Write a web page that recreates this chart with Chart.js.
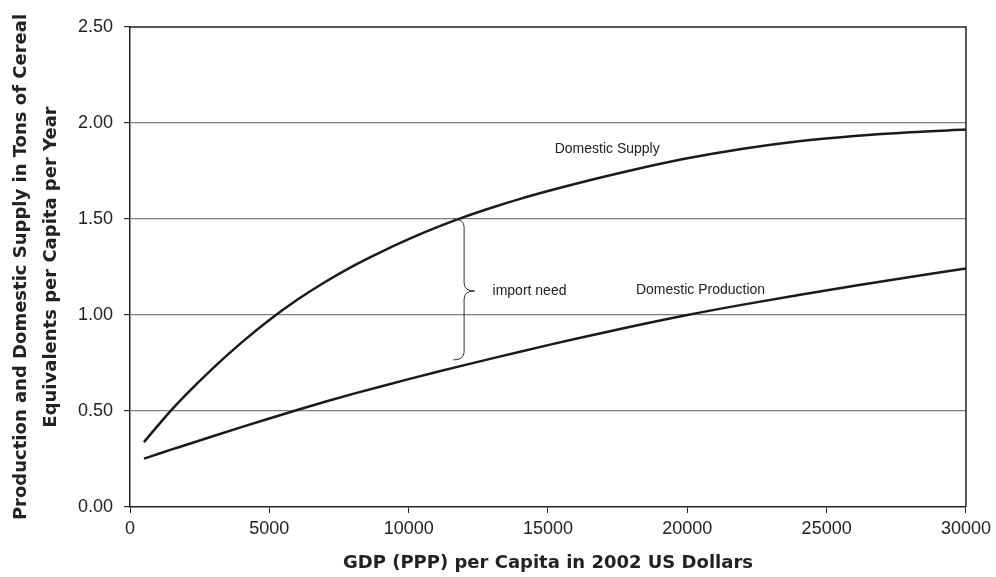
<!DOCTYPE html>
<html lang="en">
  <head>
    <meta charset="UTF-8" />
    <title>Cereal Supply vs GDP</title>
    <script src="https://cdn.jsdelivr.net/npm/chart.js@4"></script>
    <style>
      body {
        margin: 0;
        background: white;
      }
    </style>
  </head>
  <body>
    <canvas id="chart" width="996" height="577"></canvas>

    <script>
      // GDP per capita (x) and the two curves
      const gdp = [500, 1000, 1500, 2000, 3000, 4000, 5000, 6000, 7000, 8000, 9000, 10000,
        11000, 12000, 13000, 14000, 15000, 16000, 18000, 20000, 22000, 24000, 26000, 28000, 30000];
      const supply = [0.338, 0.424, 0.507, 0.584, 0.726, 0.856, 0.974, 1.079, 1.172, 1.255, 1.328, 1.395,
        1.456, 1.511, 1.560, 1.605, 1.646, 1.684, 1.754, 1.816, 1.866, 1.905, 1.932, 1.952, 1.966];
      const production = [0.252, 0.276, 0.300, 0.323, 0.370, 0.416, 0.461, 0.505, 0.548, 0.589, 0.628, 0.666,
        0.703, 0.739, 0.774, 0.809, 0.843, 0.876, 0.940, 1.000, 1.054, 1.104, 1.152, 1.198, 1.242];
      const yTicks = [0, 0.5, 1.0, 1.5, 2.0, 2.5];
      const xTicks = [0, 5000, 10000, 15000, 20000, 25000, 30000];

      const FONT = "'Liberation Sans', Arial, sans-serif";
      const TITLE_FONT = "'DejaVu Sans', 'Liberation Sans', sans-serif";
      const INK = "#1a1a1a";

      // labels and the curly brace, in data coordinates
      const notes = [
        { text: "Domestic Supply", x: 15240, y: 1.862 },
        { text: "import need", x: 13010, y: 1.125 },
        { text: "Domestic Production", x: 18155, y: 1.13 },
      ];
      const brace = { xLeft: 11600, xMid: 11990, xTip: 12370, yTop: 1.5, yMid: 1.125, yBottom: 0.766 };

      const overlay = {
        id: "overlay",
        afterDatasetsDraw(chart) {
          const { ctx, chartArea: a, scales: { x, y } } = chart;
          ctx.save();
          // top and right frame
          ctx.strokeStyle = "#222";
          ctx.lineWidth = 1.5;
          ctx.beginPath();
          ctx.moveTo(a.left, a.top);
          ctx.lineTo(a.right, a.top);
          ctx.lineTo(a.right, a.bottom);
          ctx.stroke();

          // brace
          const xl = x.getPixelForValue(brace.xLeft);
          const xm = x.getPixelForValue(brace.xMid);
          const xt = x.getPixelForValue(brace.xTip);
          const yt = y.getPixelForValue(brace.yTop);
          const ym = y.getPixelForValue(brace.yMid);
          const yb = y.getPixelForValue(brace.yBottom);
          ctx.strokeStyle = "#333";
          ctx.lineWidth = 1;
          ctx.beginPath();
          ctx.moveTo(xl, yt);
          ctx.quadraticCurveTo(xm, yt, xm, yt + 8);
          ctx.lineTo(xm, ym - 8);
          ctx.quadraticCurveTo(xm, ym, xt, ym);
          ctx.quadraticCurveTo(xm, ym, xm, ym + 8);
          ctx.lineTo(xm, yb - 8);
          ctx.quadraticCurveTo(xm, yb, xl, yb);
          ctx.stroke();

          // text labels
          ctx.fillStyle = "#222";
          ctx.font = "14px " + FONT;
          ctx.textAlign = "left";
          ctx.textBaseline = "middle";
          notes.forEach(n => {
            ctx.fillText(n.text, x.getPixelForValue(n.x), y.getPixelForValue(n.y));
          });
          ctx.restore();
        },
      };

      new Chart(document.getElementById("chart"), {
        type: "line",
        data: {
          labels: gdp,
          datasets: [
            {
              label: "Domestic Supply",
              data: gdp.map((g, i) => ({ x: g, y: supply[i] })),
            },
            {
              label: "Domestic Production",
              data: gdp.map((g, i) => ({ x: g, y: production[i] })),
            },
          ],
        },
        options: {
          responsive: false,
          animation: false,
          devicePixelRatio: 1,
          layout: { padding: { top: 27, right: 28, left: 0, bottom: 0 } },
          elements: {
            line: { borderColor: INK, borderWidth: 2.5, tension: 0.4, cubicInterpolationMode: "monotone" },
            point: { radius: 0 },
          },
          plugins: {
            legend: { display: false },
            tooltip: { enabled: false },
          },
          scales: {
            x: {
              type: "linear",
              min: 0,
              max: 30000,
              afterBuildTicks: s => { s.ticks = xTicks.map(v => ({ value: v })); },
              afterFit: s => { s.height = 70; },
              ticks: {
                color: "#222",
                font: { family: FONT, size: 18 },
                padding: 5,
                maxRotation: 0,
                callback: v => String(v),
              },
              grid: { drawOnChartArea: false, tickLength: 6, tickColor: "#222" },
              border: { color: "#222", width: 1.5 },
              title: {
                display: true,
                text: "GDP (PPP) per Capita in 2002 US Dollars",
                color: "#222",
                font: { family: TITLE_FONT, size: 18, weight: "bold" },
                padding: { top: 0, bottom: 3 },
              },
            },
            y: {
              min: 0,
              max: 2.5,
              afterBuildTicks: s => { s.ticks = yTicks.map(v => ({ value: v })); },
              afterFit: s => { s.width = 130; },
              ticks: {
                color: "#222",
                font: { family: FONT, size: 18 },
                padding: 11,
                callback: v => Number(v).toFixed(2),
              },
              grid: {
                color: c => (c.tick && (c.tick.value === 0 || c.tick.value === 2.5)) ? "rgba(0,0,0,0)" : "#808080",
                lineWidth: 1.2,
                tickLength: 6,
                tickColor: "#222",
              },
              border: { color: "#222", width: 1.5 },
              title: {
                display: true,
                text: ["Production and Domestic Supply in Tons of Cereal", "Equivalents per Capita per Year"],
                color: "#222",
                font: { family: TITLE_FONT, size: 18, weight: "bold", lineHeight: 30 / 18 },
                padding: { top: 6, bottom: 0 },
              },
            },
          },
        },
        plugins: [overlay],
      });
    </script>
  </body>
</html>
